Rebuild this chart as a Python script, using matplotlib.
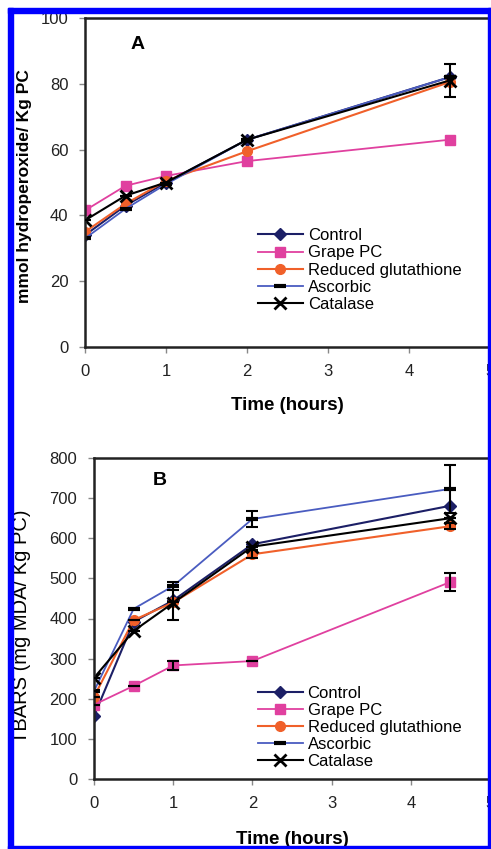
import numpy as np
import matplotlib
matplotlib.use('Agg')
import matplotlib.pyplot as plt
from matplotlib.patches import Rectangle

plt.rcParams['font.family'] = ['Liberation Sans', 'DejaVu Sans']

time = [0, 0.5, 1, 2, 4.5]
names = ['Control', 'Grape PC', 'Reduced glutathione', 'Ascorbic', 'Catalase']

# panel A: mmol hydroperoxide / Kg PC
hp_control = [34, 43, 50, 63, 82]
hp_grape = [41.5, 49, 52, 56.5, 63]
hp_gsh = [35, 43.5, 50.5, 59.5, 80.5]
hp_ascorbic = [33, 42, 49.5, 63, 82]
hp_catalase = [38.5, 46, 50, 63, 81]
hp_catalase_err = [0, 0, 0, 0, 5]

# panel B: TBARS (mg MDA / Kg PC)
tb_control = [157, 392, 445, 585, 681]
tb_grape = [185, 232, 283, 294, 491]
tb_grape_err = [0, 0, 12, 0, 23]
tb_gsh = [205, 396, 440, 560, 630]
tb_gsh_err = [0, 0, 0, 10, 8]
tb_ascorbic = [219, 424, 481, 648, 723]
tb_ascorbic_err = [0, 0, 10, 20, 60]
tb_catalase = [252, 369, 439, 579, 650]
tb_catalase_err = [0, 0, 43, 0, 0]

styles = {
    'Control': dict(color='#1c1f66', marker='D', ms=6.5, mfc='#1c1f66', mec='#1c1f66', lw=1.5),
    'Grape PC': dict(color='#e0409f', marker='s', ms=7, mfc='#e0409f', mec='#e0409f', lw=1.3),
    'Reduced glutathione': dict(color='#f0602a', marker='o', ms=7, mfc='#f0602a', mec='#f0602a', lw=1.5),
    'Ascorbic': dict(color='#4a5cc0', marker='_', ms=9, mfc='black', mec='black', mew=3, lw=1.3),
    'Catalase': dict(color='black', marker='x', ms=8, mfc='black', mec='black', mew=2, lw=1.5),
}

fig = plt.figure(figsize=(4.91, 8.49), dpi=100)
axA = fig.add_axes([85/491, 1-347/849, 405/491, 329/849])
axB = fig.add_axes([94/491, 1-779/849, 396/491, 321/849])


def draw(ax, series, errs):
    for name in names:
        st = dict(styles[name])
        y = series[name]
        ax.plot(time, y, label=name, **st)
        if name in errs:
            ax.errorbar(time, y, yerr=errs[name], fmt='none', ecolor='black',
                        elinewidth=1.5, capsize=4.5, capthick=1.5, zorder=3)


draw(axA,
     {'Control': hp_control, 'Grape PC': hp_grape, 'Reduced glutathione': hp_gsh,
      'Ascorbic': hp_ascorbic, 'Catalase': hp_catalase},
     {'Catalase': hp_catalase_err})
draw(axB,
     {'Control': tb_control, 'Grape PC': tb_grape, 'Reduced glutathione': tb_gsh,
      'Ascorbic': tb_ascorbic, 'Catalase': tb_catalase},
     {'Grape PC': tb_grape_err, 'Reduced glutathione': tb_gsh_err,
      'Ascorbic': tb_ascorbic_err, 'Catalase': tb_catalase_err})

axA.set_xlim(0, 5)
axA.set_ylim(0, 100)
axA.set_yticks([0, 20, 40, 60, 80, 100])
axB.set_xlim(0, 5)
axB.set_ylim(0, 800)
axB.set_yticks(range(0, 801, 100))

for ax in (axA, axB):
    ax.set_xticks([0, 1, 2, 3, 4, 5])
    for s in ax.spines.values():
        s.set_linewidth(1.8)
        s.set_color('#222222')
    ax.tick_params(labelsize=12, length=4, width=1, color='#888888', pad=8, colors='#222222')
    ax.set_xlabel('Time (hours)', fontsize=13.5, fontweight='bold')

axA.xaxis.set_label_coords(0.5, -0.152)
axB.xaxis.set_label_coords(0.5, -0.163)
axA.set_ylabel('mmol hydroperoxide/ Kg PC', fontsize=12.5, fontweight='bold')
axA.yaxis.set_label_coords(-0.132, 0.49)
axB.set_ylabel('TBARS (mg MDA/ Kg PC)', fontsize=14.5)
axB.yaxis.set_label_coords(-0.16, 0.477)

axA.text(0.13, 0.92, 'A', transform=axA.transAxes, fontsize=14, fontweight='bold', ha='center', va='center')
axB.text(0.165, 0.93, 'B', transform=axB.transAxes, fontsize=14, fontweight='bold', ha='center', va='center')

leg_kw = dict(frameon=False, fontsize=12, handlelength=2.7, handletextpad=0.3,
              labelspacing=0.13, borderpad=0, borderaxespad=0, loc='upper left')
axA.legend(bbox_to_anchor=(0.427, 0.361), **leg_kw)
axB.legend(bbox_to_anchor=(0.413, 0.291), **leg_kw)

# blue frame around the figure
blue = '#0000ff'
for (x0, y0, w, h) in [(8, 8, 5, 841), (8, 8, 483, 5), (488, 8, 3, 841), (8, 846, 483, 3)]:
    fig.patches.append(Rectangle((x0/491, 1-(y0+h)/849), w/491, h/849,
                                 transform=fig.transFigure, color=blue, zorder=10))

fig.savefig('out.png', dpi=100)
